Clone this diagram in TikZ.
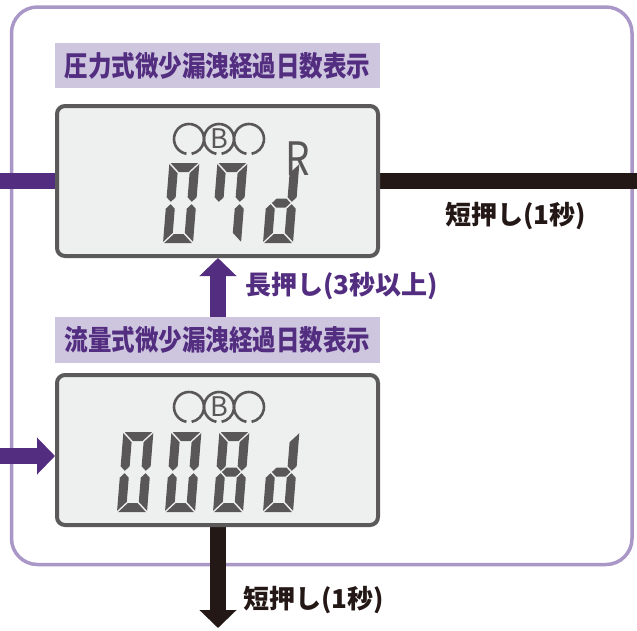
\documentclass[tikz,border=0pt]{standalone}
\usepackage{fontspec}
\usepackage{graphicx}
\usetikzlibrary{arrows.meta,backgrounds}
\newfontfamily\jp{Noto Sans CJK JP}
\definecolor{lilac}{HTML}{A997C7}
\definecolor{lilacfill}{HTML}{CEC5DF}
\definecolor{grape}{HTML}{522D80}
\definecolor{ink}{HTML}{231815}
\definecolor{lcdbg}{HTML}{EEF0EF}
\definecolor{lcdrim}{HTML}{5B5959}
\definecolor{segcol}{HTML}{595757}

\newcommand\narrow[1]{\scalebox{0.84}[1]{#1}}
% one segment of a digit, 30 wide and 80 high
\newcommand\lcdseg[1]{%
  \if#1a\fill[segcol] (1.2,80) -- (28.8,80) -- (19.8,71) -- (10.2,71) -- cycle;\fi
  \if#1b\fill[segcol] (30,78.8) -- (30,45.7) -- (25.5,41.2) -- (21,45.7) -- (21,69.8) -- cycle;\fi
  \if#1c\fill[segcol] (30,1.2) -- (30,34.3) -- (25.5,38.8) -- (21,34.3) -- (21,10.2) -- cycle;\fi
  \if#1d\fill[segcol] (1.2,0) -- (28.8,0) -- (19.8,9) -- (10.2,9) -- cycle;\fi
  \if#1e\fill[segcol] (0,1.2) -- (0,34.3) -- (4.5,38.8) -- (9,34.3) -- (9,10.2) -- cycle;\fi
  \if#1f\fill[segcol] (0,78.8) -- (0,45.7) -- (4.5,41.2) -- (9,45.7) -- (9,69.8) -- cycle;\fi
  \if#1g\fill[segcol] (5.7,40) -- (10.2,44.5) -- (19.8,44.5) -- (24.3,40) -- (19.8,35.5) -- (10.2,35.5) -- cycle;\fi}
\newcommand\lcddigit[3]{%
  \begin{scope}[shift={(#1,#2)}, y=1pt, xslant=0.08]
    \foreach \s in {#3} {\lcdseg{\s}}
  \end{scope}}
\newcommand\lcdrings[1]{%
  \foreach \cx in {189,219,249}
    \draw[ring] (\cx,#1) ++(100:15) arc[start angle=100, end angle=440, radius=15];}

\tikzset{
  bigtip/.tip={Triangle[width=36pt,length=18pt]},
  lcd/.style={draw=lcdrim, line width=4pt, fill=lcdbg, rounded corners=8pt,
    minimum width=321pt, minimum height=150pt, inner sep=0pt},
  labbox/.style={fill=lilacfill, minimum width=325pt, inner sep=0pt,
    font=\jp\bfseries\fontsize{28}{28}\selectfont, text=grape},
  presslab/.style={font=\jp\bfseries\fontsize{26}{26}\selectfont, anchor=west, inner sep=0pt},
  ring/.style={draw=segcol, line width=2.6pt},
  ringletter/.style={font=\jp\fontsize{27}{27}\selectfont, text=segcol, inner sep=0pt},
  purpleflow/.style={draw=grape, fill=grape, line width=16pt},
  blackflow/.style={draw=ink, fill=ink, line width=16pt},
}

\begin{document}
\begin{tikzpicture}[x=1pt,y=-1pt]
\useasboundingbox (0,0) rectangle (637,630);

\node[labbox, minimum height=45pt] (labP) at (217.5,65.5) {\narrow{圧力式微少漏洩経過日数表示}};
\node[labbox, minimum height=46pt] (labF) at (217.5,340) {\narrow{流量式微少漏洩経過日数表示}};
\node[lcd] (lcdP) at (217.5,181) {};
\node[lcd] (lcdF) at (217.5,450) {};

% pressure display: 07d
\lcdrings{139}
\node[ringletter] (bP) at (219,139) {B};
\node[font=\jp\fontsize{46}{46}\selectfont, text=segcol, inner sep=0pt] (rP) at (298,159) {\narrow{R}};
\lcddigit{163}{243}{a,b,c,d,e,f}
\lcddigit{211}{243}{a,b,c,f}
\lcddigit{263}{243}{b,c,d,e,g}

% flow display: 008d
\lcdrings{407}
\node[ringletter] (bF) at (219,407) {B};
\lcddigit{117}{512}{a,b,c,d,e,f}
\lcddigit{165}{512}{a,b,c,d,e,f}
\lcddigit{213}{512}{a,b,c,d,e,f,g}
\lcddigit{263}{512}{b,c,d,e,g}

\node[presslab, text=ink] (shortP) at (445,216) {短押し(1秒)};
\node[presslab, text=grape] (longP) at (245,286) {長押し(3秒以上)};
\node[presslab, text=ink] (shortF) at (243,600) {短押し(1秒)};

\coordinate (inP) at (0,181);
\coordinate (outP) at (637,181);
\coordinate (inF) at (0,456);
\coordinate (ax) at (218,0);
\coordinate (outF) at (218,628);

% frame and connectors go under the boxes
\begin{pgfonlayer}{background}
\draw[lilac, line width=3.5pt, rounded corners=26pt] (11.5,7) rectangle (632,564.5);
\draw[purpleflow] (inP) -- (inP -| lcdP.west);
\draw[blackflow] (lcdP.east |- outP) -- (outP);
\draw[purpleflow, -bigtip] (inF) -- (inF -| lcdF.west);
\draw[purpleflow, -bigtip] (labF.north -| ax) -- (lcdP.south -| ax);
\draw[blackflow, -bigtip] (lcdF.south -| ax) -- (outF);
\end{pgfonlayer}
\end{tikzpicture}
\end{document}
